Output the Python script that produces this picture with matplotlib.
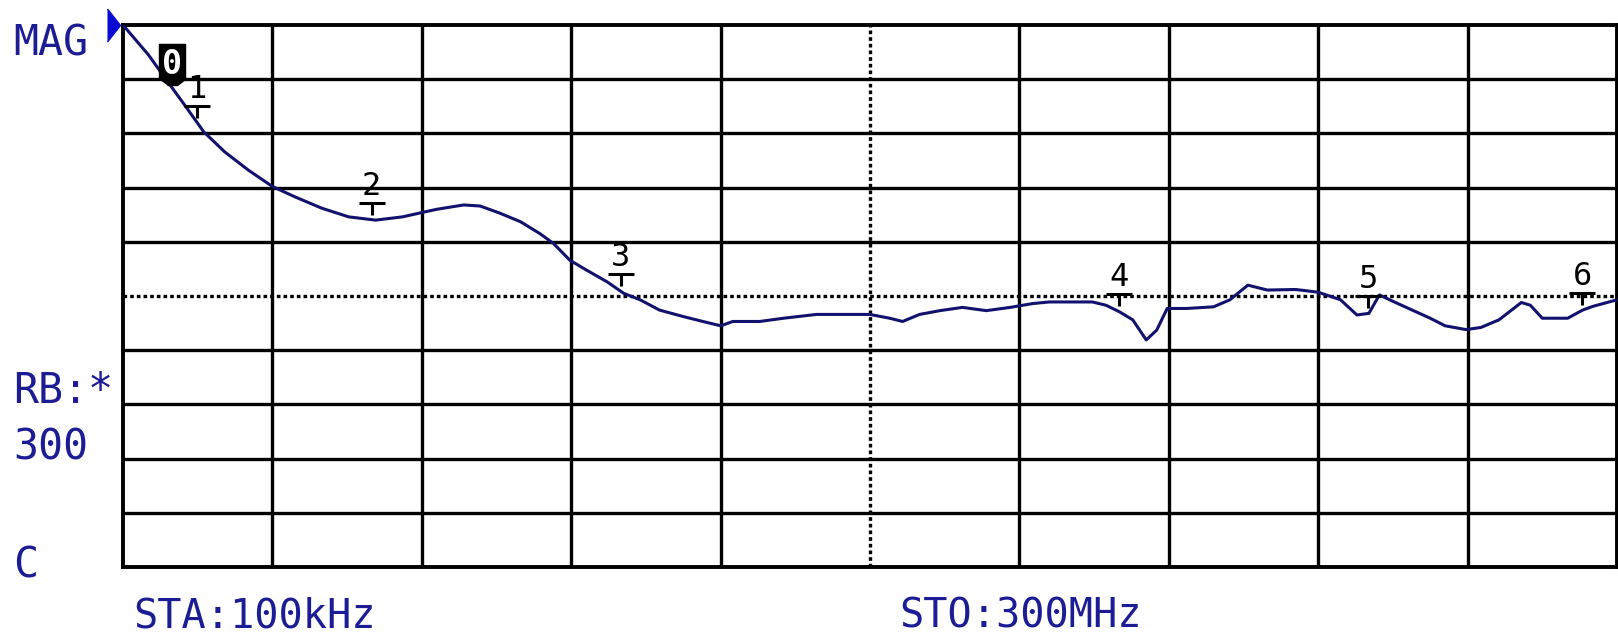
import matplotlib
matplotlib.use("Agg")
import matplotlib.pyplot as plt
import matplotlib.transforms as mtransforms
import numpy as np
from matplotlib.path import Path

# Sweep settings
start_mhz = 0.1
stop_mhz = 300.0

# Trace: frequency (MHz) and magnitude in screen divisions (0 = bottom, 10 = top)
freq_mhz = [0.1, 5.2, 9.1, 12.5, 16.3, 20.5, 25.3, 30.1, 34.6, 40.0,
            45.4, 50.8, 56.2, 60.1, 63.1, 68.5, 71.8, 75.7, 79.9, 83.8,
            86.5, 89.8, 93.1, 97.3, 100.6, 103.9, 107.8, 112.6, 116.5, 120.1,
            122.5, 127.9, 132.7, 139.3, 150.0, 154.0, 156.6, 160.0, 164.1, 168.6,
            173.4, 178.2, 182.7, 186.0, 194.7, 197.4, 200.1, 202.8, 205.5, 207.6,
            209.7, 213.6, 219.0, 222.3, 225.9, 229.8, 235.5, 240.0, 244.5, 247.8,
            250.2, 252.3, 255.3, 258.9, 262.5, 265.5, 269.7, 272.7, 276.3, 280.8,
            282.6, 285.0, 290.1, 293.1, 295.2, 300.0]
mag_div = [10.00, 9.45, 8.95, 8.52, 8.03, 7.66, 7.32, 7.02, 6.83, 6.62,
           6.46, 6.40, 6.46, 6.54, 6.60, 6.68, 6.66, 6.53, 6.37, 6.15,
           5.97, 5.66, 5.48, 5.26, 5.05, 4.93, 4.74, 4.62, 4.53, 4.45,
           4.53, 4.53, 4.59, 4.66, 4.66, 4.59, 4.53, 4.66, 4.73, 4.79,
           4.73, 4.79, 4.86, 4.89, 4.89, 4.83, 4.71, 4.56, 4.19, 4.37,
           4.77, 4.77, 4.80, 4.93, 5.20, 5.11, 5.12, 5.07, 4.93, 4.65,
           4.68, 5.02, 4.89, 4.74, 4.59, 4.45, 4.38, 4.42, 4.56, 4.88,
           4.83, 4.59, 4.59, 4.74, 4.81, 4.93]

# Markers
marker_ids = [0, 1, 2, 3, 4, 5, 6]
marker_freq = [10, 15, 50, 100, 200, 250, 293]

trace_col = "#12126e"
text_col = "#1c1c94"
mono = "DejaVu Sans Mono"

fig = plt.figure(figsize=(16.18, 6.39), dpi=100)
ax = fig.add_axes([123 / 1618, 72 / 639, 1494 / 1618, 542 / 639])
ax.set_xlim(start_mhz, stop_mhz)
ax.set_ylim(0, 10)
ax.set_xticks([])
ax.set_yticks([])
for s in ax.spines.values():
    s.set_linewidth(2.8)
    s.set_color("black")

# 10 x 10 graticule, centre lines dotted
grid_x = np.linspace(start_mhz, stop_mhz, 11)
grid_y = np.linspace(0, 10, 11)
for i in range(1, 10):
    ls = (0, (1.1, 0.9)) if i == 5 else "-"
    ax.axvline(grid_x[i], color="black", lw=2.4, ls=ls, zorder=1)
    ax.axhline(grid_y[i], color="black", lw=2.4, ls=ls, zorder=1)

# the trace
ax.plot(freq_mhz, mag_div, color=trace_col, lw=2.2, zorder=3)

# markers sit on the trace
mag_at = np.interp(marker_freq, freq_mhz, mag_div)

t_path = Path([(-13, 17), (13, 17), (0, 17), (0, 5)],
              [Path.MOVETO, Path.LINETO, Path.MOVETO, Path.LINETO])
box_path = [(-5, 3), (5, 3), (13, 9), (13, 44), (-13, 44), (-13, 9)]

for mid, f, m in zip(marker_ids, marker_freq, mag_at):
    if mid == 0:
        ax.plot([f], [m], marker=box_path, ms=63.4, color="black",
                ls="none", zorder=5)
        ax.annotate("0", (f, m), xytext=(0, 14), textcoords="offset pixels",
                    ha="center", va="baseline", fontsize=24, family=mono,
                    fontweight="bold", color="white", zorder=6)
    else:
        ax.plot([f], [m], marker=t_path, ms=24.5, mfc="none", mec="black",
                mew=2.2, ls="none", zorder=5)
        ax.annotate(str(mid), (f, m), xytext=(0, 25), textcoords="offset pixels",
                    ha="center", va="baseline", fontsize=23, family=mono,
                    color="black", zorder=6)

# reference level pointer at top-left
tri = [(-13, -16.5), (0, 0), (-13, 16.5)]
tri_tr = mtransforms.offset_copy(ax.transData, fig=fig, x=-3, y=0, units="dots")
ax.plot([start_mhz], [10], marker=tri, ms=23.8, color="#0a0ad2", ls="none",
        transform=tri_tr, clip_on=False, zorder=6)

# screen annotations
W, H = 1618, 639
fig.text(13 / W, 1 - 55 / H, "MAG", fontsize=30, family=mono, color=text_col,
         ha="left", va="baseline")
fig.text(13 / W, 1 - 403 / H, "RB:*", fontsize=30, family=mono, color=text_col,
         ha="left", va="baseline")
fig.text(13 / W, 1 - 460 / H, "300", fontsize=30, family=mono, color=text_col,
         ha="left", va="baseline")
fig.text(13 / W, 1 - 577 / H, "C", fontsize=30, family=mono, color=text_col,
         ha="left", va="baseline")
fig.text(133 / W, 1 - 637 / H, "STA:100kHz", fontsize=29, family=mono,
         color=text_col, ha="left", va="bottom")
fig.text(899 / W, 1 - 637 / H, "STO:300MHz", fontsize=29, family=mono,
         color=text_col, ha="left", va="bottom")

fig.savefig("out.png", dpi=100, facecolor="white")
